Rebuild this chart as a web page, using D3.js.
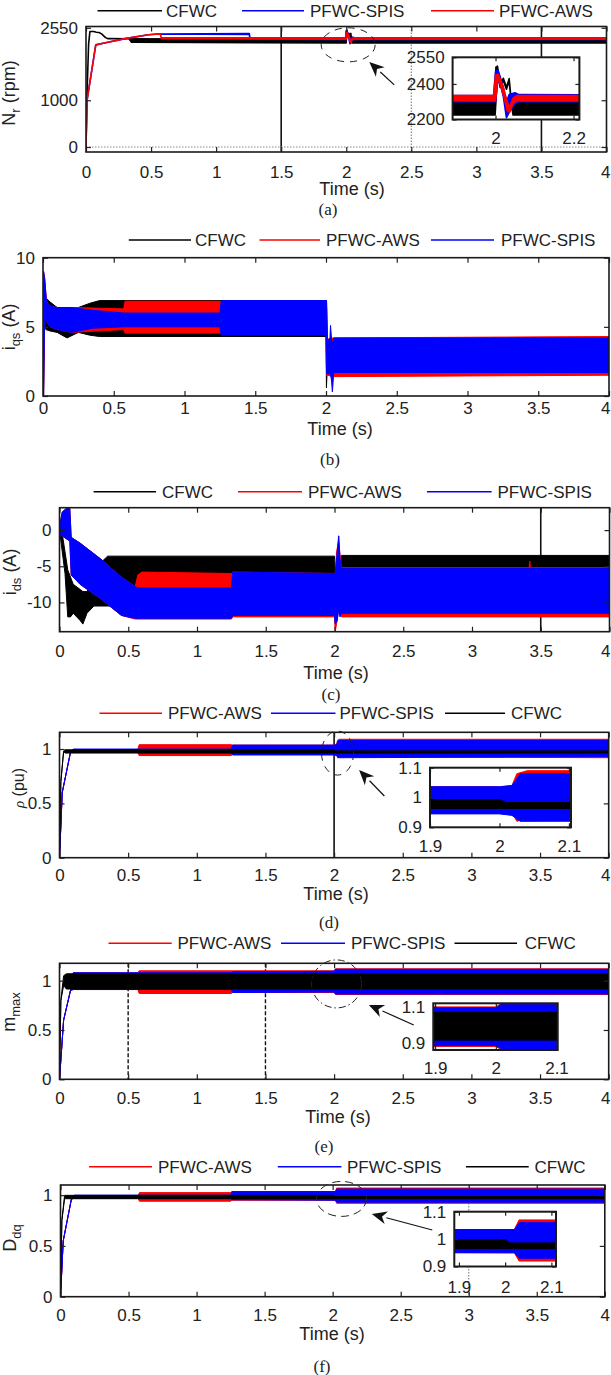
<!DOCTYPE html>
<html>
<head>
<meta charset="utf-8">
<script src="https://cdn.jsdelivr.net/npm/d3@7"></script>
<style>
body { margin: 0; background: #fff; }
text { font-family: "Liberation Sans", Arial, sans-serif; fill: #222; }
</style>
</head>
<body>
<svg id="fig" width="611" height="1375"></svg>
<script>
// ---- data: envelopes as [t (s), low, high] ----
const timeTicks = [0, 0.5, 1, 1.5, 2, 2.5, 3, 3.5, 4]
const insetTimeTicks = [1.9, 2, 2.1]
const unitTicks = [0, 0.5, 1]

// (a) rotor speed
const nrTicks = [0, 1000, 2550]
const nrInsetTicks = [2200, 2400, 2550]
const nrInsetTimeTicks = [2, 2.2]
const nrCFWC = [[0,0,0],[0.005,900,900],[0.02,2200,2200],[0.03,2470,2470],[0.06,2470,2470],[0.08,2455,2455],[0.1,2450,2450],[0.12,2420,2420],[0.15,2340,2340],[0.17,2318,2318],[0.33,2315,2315],[0.35,2240,2315],[1.999,2225,2300],[2.001,2300,2495],[2.005,2480,2500],[2.012,2380,2392],[2.02,2420,2432],[2.028,2370,2382],[2.035,2418,2430],[2.04,2300,2312],[2.045,2225,2300],[4,2225,2300]]
const nrSPIS = [[0,0,0],[0.008,1000,1000],[0.075,2185,2185],[0.15,2230,2230],[0.3,2318,2318],[0.48,2400,2400],[0.55,2418,2418],[1.255,2410,2425],[1.26,2305,2335],[1.995,2300,2335],[2.0,2300,2470],[2.006,2420,2480],[2.012,2400,2440],[2.02,2330,2380],[2.028,2210,2300],[2.035,2240,2340],[2.05,2290,2350],[2.06,2300,2340],[4,2300,2335]]
const nrAWS = [[0,0,0],[0.008,1000,1000],[0.075,2185,2185],[0.15,2230,2230],[0.3,2318,2318],[0.48,2400,2400],[0.57,2420,2420],[0.58,2315,2335],[1.995,2305,2335],[2.0,2305,2450],[2.006,2430,2455],[2.012,2400,2430],[2.02,2340,2380],[2.03,2250,2300],[2.036,2240,2270],[2.045,2290,2320],[2.055,2305,2335],[4,2305,2335]]

// (b) q-axis stator current
const iqsTicks = [0, 5, 10]
const iqsCFWC = [[0,0,0],[0.004,0,8.8],[0.012,5.6,8.2],[0.02,4.8,7.1],[0.05,4.7,6.8],[0.1,4.6,6.4],[0.17,4.2,6.3],[0.25,4.6,6.4],[0.33,4.4,6.7],[0.4,4.3,6.9],[2.0,4.3,6.9],[2.003,0.6,6.9],[2.008,1.8,3.9],[4,1.8,3.9]]
const iqsAWS = [[0,0,0],[0.004,0,9.0],[0.012,6.0,8.5],[0.025,5.4,6.8],[0.05,5.0,6.5],[0.1,4.8,6.4],[0.2,4.6,6.4],[0.57,4.8,6.3],[0.58,4.55,6.85],[1.25,4.55,6.85],[1.26,4.5,6.8],[2.0,4.5,6.8],[2.004,1.5,6.8],[2.01,1.5,4.1],[2.05,1.4,4.2],[4,1.5,4.3]]
const iqsSPIS = [[0,0,0],[0.004,0,9.0],[0.012,6.0,8.5],[0.025,5.4,6.8],[0.05,5.0,6.5],[0.1,4.8,6.4],[0.2,4.6,6.4],[0.35,4.9,6.2],[0.57,5.0,6.0],[1.25,5.0,6.0],[1.26,4.4,6.9],[2.0,4.4,6.9],[2.004,1.6,6.9],[2.01,1.6,4.0],[2.028,1.6,4.2],[2.032,1.6,5.1],[2.04,1.0,4.0],[2.045,0.3,3.8],[2.055,1.7,4.2],[4,1.7,4.2]]

// (c) d-axis stator current
const idsTicks = [-10, -5, 0]
const idsCFWC = [[0,0,0],[0.02,-3,-0.5],[0.04,-6,-3],[0.06,-12,-5.5],[0.08,-12,-6.5],[0.1,-11.5,-7.5],[0.15,-12.5,-8.2],[0.17,-13,-8.5],[0.2,-11.5,-8.5],[0.25,-10.5,-6.5],[0.3,-10.5,-4.5],[0.35,-10.5,-3.6],[2.0,-11,-3.6],[2.005,-12,-6],[2.025,-10,-5],[2.03,-8,-0.8],[2.035,-10,-5],[2.045,-11,-5],[2.05,-11,-3.5],[4,-11,-3.5]]
const idsAWS = [[0,-0.5,0.5],[0.02,-0.8,2.5],[0.05,-1.2,3.0],[0.075,-1.5,3.0],[0.085,-6.2,-1.0],[0.15,-7.5,-1.8],[0.3,-9.5,-4.0],[0.45,-11.8,-6.5],[0.55,-12.3,-7.8],[0.57,-12.3,-6.2],[0.6,-12.3,-5.8],[1.25,-12.3,-6.0],[1.26,-12,-5.8],[2.0,-12,-6],[2.005,-14,-6],[2.015,-13,-3],[2.03,-11,-1.5],[2.05,-12,-5.2],[3.415,-12,-5.2],[3.42,-12,-4.3],[3.425,-12,-5.2],[4,-12,-5.2]]
const idsSPIS = [[0,-0.5,0.5],[0.02,-0.8,2.5],[0.05,-1.2,3.0],[0.075,-1.5,3.0],[0.085,-6.2,-1.0],[0.15,-7.5,-1.8],[0.3,-9.5,-4.0],[0.45,-11.8,-6.5],[0.55,-12.2,-7.8],[0.57,-12.2,-8.0],[1.25,-12.2,-8.0],[1.26,-11.8,-5.8],[2.0,-11.8,-6.0],[2.005,-13,-6],[2.02,-12.5,-3],[2.03,-11,-0.8],[2.04,-12,-4],[2.05,-11.5,-5.3],[4,-11.5,-5.3]]

// (d) rho
const rhoInsetTicks = [0.9, 1, 1.1]
const rhoAWS = [[0,0,0],[0.02,0.6,0.6],[0.08,0.97,0.97],[0.1,0.97,0.995],[0.57,0.97,0.995],[0.58,0.94,1.04],[1.25,0.94,1.04],[1.26,0.952,1.036],[2.0,0.952,1.036],[2.018,0.95,1.04],[2.025,0.92,1.08],[2.04,0.93,1.09],[4,0.92,1.09]]
const rhoSPIS = [[0,0,0],[0.02,0.6,0.6],[0.08,0.97,0.97],[0.1,0.97,1.0],[1.25,0.97,1.0],[1.26,0.945,1.036],[2.0,0.945,1.036],[2.018,0.94,1.04],[2.03,0.92,1.08],[4,0.93,1.08]]
const rhoCFWC = [[0,0,0],[0.01,0.7,0.7],[0.03,0.98,0.98],[0.04,0.963,0.993],[2.0,0.963,0.993],[2.01,0.963,0.983],[4,0.963,0.983]]

// (e) m_max
const mInsetTicks = [0.9, 1.1]
const mAWS = [[0,0,0],[0.03,0.6,0.6],[0.08,0.9,0.9],[0.1,0.91,1.08],[0.57,0.91,1.08],[0.58,0.87,1.1],[1.25,0.87,1.1],[1.26,0.88,1.1],[2.0,0.88,1.1],[2.01,0.86,1.12],[4,0.86,1.12]]
const mSPIS = [[0,0,0],[0.03,0.6,0.6],[0.08,0.9,0.9],[0.1,0.91,1.08],[1.25,0.91,1.08],[1.26,0.88,1.09],[2.0,0.885,1.095],[2.01,0.865,1.115],[4,0.865,1.115]]
const mCFWC = [[0,0,0],[0.01,0.8,0.8],[0.03,0.95,1.05],[0.05,0.915,1.07],[4,0.915,1.07]]

// (f) D_dq
const dAWS = [[0,0,0],[0.02,0.55,0.55],[0.08,0.96,0.96],[0.1,0.97,0.995],[0.57,0.97,0.995],[0.58,0.94,1.025],[1.25,0.94,1.025],[1.26,0.95,1.035],[2.02,0.95,1.035],[2.03,0.92,1.07],[4,0.92,1.07]]
const dSPIS = [[0,0,0],[0.02,0.55,0.55],[0.08,0.96,0.96],[0.1,0.97,1.0],[1.25,0.97,1.0],[1.26,0.955,1.034],[2.02,0.95,1.035],[2.03,0.93,1.06],[4,0.93,1.06]]
const dCFWC = [[0,0,0],[0.01,0.75,0.75],[0.03,0.965,0.998],[2.0,0.965,0.998],[2.01,0.965,0.986],[4,0.965,0.986]]

const names = { cfwc: "CFWC", aws: "PFWC-AWS", spis: "PFWC-SPIS" }
const colors = { cfwc: "#000000", aws: "#ff0000", spis: "#0000ff" }

// ---- layout ----
const panels = [
  { key: "a", left: 86, right: 606.5, top: 26.5, bottom: 152, yDomain: [-107, 2578], yTicks: nrTicks, gap: 20, sw: 1.6,
    series: [["cfwc", nrCFWC], ["spis", nrSPIS], ["aws", nrAWS]],
    legendY: 10.7, legend: [["cfwc", 97.5, 162, 166], ["spis", 242, 304, 310], ["aws", 431, 494, 499]],
    ylabel: { x: 20, y: 93, parts: [["N"], ["r", "sub"], [" (rpm)"]] },
    timeLabel: [352, 189], caption: ["(a)", 328, 209],
    refV: [[1.5, "solid"], [3.5, "solid"], [2.5, "dot"]], refH: [[0, "dot"]],
    inset: { left: 452.6, right: 579.4, top: 57.3, bottom: 119.5, xDomain: [1.89, 2.215], yDomain: [2200, 2550], xTicks: nrInsetTimeTicks, yTicks: nrInsetTicks, labelY: 138 },
    ellipse: { t: 2.015, v: 2186, rx: 27, ry: 17, dash: "7,6" },
    arrow: { from: [2.369, 1328], to: [2.177, 1821] } },
  { key: "b", left: 43, right: 609, top: 257.7, bottom: 396, yDomain: [0, 10], yTicks: iqsTicks, gap: 12, sw: 1,
    series: [["cfwc", iqsCFWC], ["aws", iqsAWS], ["spis", iqsSPIS]],
    legendY: 240, legend: [["cfwc", 128.8, 191, 195], ["aws", 259.5, 320, 326], ["spis", 431, 494, 501]],
    ylabel: { x: 20, y: 327, parts: [["i"], ["qs", "sub"], [" (A)"]] },
    timeLabel: [340, 429], caption: ["(b)", 330, 459],
    refV: [], refH: [] },
  { key: "c", left: 59.5, right: 609.5, top: 507.7, bottom: 631.7, yDomain: [-14.05, 3.1], yTicks: idsTicks, gap: 19, sw: 1,
    series: [["cfwc", idsCFWC], ["aws", idsAWS], ["spis", idsSPIS]],
    legendY: 491.7, legend: [["cfwc", 93.6, 156, 162], ["aws", 238, 302, 308], ["spis", 427, 491.6, 497.5]],
    ylabel: { x: 21, y: 572, parts: [["i"], ["ds", "sub"], [" (A)"]] },
    timeLabel: [336, 673], caption: ["(c)", 331, 694],
    refV: [[3.5, "solid"]], refH: [] },
  { key: "d", left: 59.5, right: 608.7, top: 732.3, bottom: 857.7, yDomain: [0, 1.154], yTicks: unitTicks, gap: 17, sw: 1,
    series: [["aws", rhoAWS], ["spis", rhoSPIS], ["cfwc", rhoCFWC]],
    legendY: 713.3, legend: [["aws", 99.5, 162, 168], ["spis", 271, 335.5, 339.5], ["cfwc", 445, 505, 511]],
    ylabel: { x: 18, y: 788, rho: true },
    timeLabel: [336, 894], caption: ["(d)", 329, 922],
    refV: [[2, "solid"]], refH: [],
    inset: { left: 430, right: 571, top: 767.7, bottom: 827.3, xDomain: [1.9, 2.103], yDomain: [0.9, 1.1], xTicks: insetTimeTicks, yTicks: rhoInsetTicks, labelY: 846 },
    ellipse: { t: 2.025, v: 0.963, rx: 16, ry: 22, dash: "7,6" },
    arrow: { from: [2.366, 0.568], to: [2.182, 0.807] } },
  { key: "e", left: 59.5, right: 608.7, top: 963.3, bottom: 1079.3, yDomain: [0, 1.176], yTicks: unitTicks, gap: 19, sw: 1,
    series: [["aws", mAWS], ["spis", mSPIS], ["cfwc", mCFWC]],
    legendY: 943.3, legend: [["aws", 108.5, 171.7, 177.5], ["spis", 281, 345, 351], ["cfwc", 454.5, 517, 524.8]],
    ylabel: { x: 20, y: 1012, parts: [["m"], ["max", "sub"]] },
    timeLabel: [338, 1117], caption: ["(e)", 324, 1146],
    refV: [[0.5, "dash"], [1.5, "dash"]], refH: [],
    inset: { left: 433.3, right: 557.7, top: 1003.3, bottom: 1050, xDomain: [1.897, 2.102], yDomain: [0.86, 1.12], xTicks: insetTimeTicks, yTicks: mInsetTicks, labelY: 1068.3 },
    ellipse: { t: 2.018, v: 0.967, rx: 25, ry: 24, dash: "7,3,1.5,3" },
    arrow: { from: [2.58, 0.551], to: [2.253, 0.754] } },
  { key: "f", left: 60.5, right: 604.8, top: 1185, bottom: 1296.7, yDomain: [0, 1.1], yTicks: unitTicks, gap: 18, sw: 1,
    series: [["aws", dAWS], ["spis", dSPIS], ["cfwc", dCFWC]],
    legendY: 1166.7, legend: [["aws", 89, 152, 158], ["spis", 277.8, 341.4, 347], ["cfwc", 466, 528.7, 534.5]],
    ylabel: { x: 21, y: 1238, parts: [["D"], ["dq", "sub"]] },
    timeLabel: [332, 1334], caption: ["(f)", 322, 1366],
    refV: [[3, "dot"]], refH: [],
    inset: { left: 454.3, right: 556, top: 1211.7, bottom: 1266.5, xDomain: [1.89, 2.11], yDomain: [0.9, 1.1], xTicks: insetTimeTicks, yTicks: rhoInsetTicks, labelY: 1286.7 },
    ellipse: { t: 2.065, v: 0.963, rx: 25, ry: 17.5, dash: "8,5" },
    arrow: { from: [2.732, 0.657], to: [2.288, 0.815] } }
]

const svg = d3.select("#fig")
const fmt = v => String(v)
const pageW = 611

function drawSeries(g, p, x, y) {
  p.series.forEach(([k, data]) => {
    g.append("path").datum(data)
      .attr("d", d3.area().x(d => x(d[0])).y0(d => y(d[1])).y1(d => y(d[2])))
      .attr("fill", colors[k]).attr("stroke", colors[k])
      .attr("stroke-width", p.sw).attr("stroke-linejoin", "round")
  })
}

function frame(g, x, y, xt, yt, left, right, top, bottom, labelY, tick, boxW) {
  const ax = g.append("g").attr("color", "#222")
  const bottomAxis = ax.append("g").attr("transform", `translate(0,${bottom})`)
    .call(d3.axisBottom(x).tickValues(xt).tickSize(-tick).tickSizeOuter(0).tickFormat(fmt))
    .call(s => s.selectAll("text").attr("y", labelY - bottom).attr("dy", "0.35em"))
  ax.append("g").attr("transform", `translate(0,${top})`)
    .call(d3.axisTop(x).tickValues(xt).tickSize(-tick).tickSizeOuter(0).tickFormat(""))
  ax.append("g").attr("transform", `translate(${left},0)`)
    .call(d3.axisLeft(y).tickValues(yt).tickSize(-tick).tickSizeOuter(0).tickPadding(8).tickFormat(fmt))
  ax.append("g").attr("transform", `translate(${right},0)`)
    .call(d3.axisRight(y).tickValues(yt).tickSize(-tick).tickSizeOuter(0).tickFormat(""))
  ax.selectAll(".domain").remove()
  ax.selectAll(".tick line").attr("stroke-width", 1.2)
  ax.selectAll("g").attr("font-size", null).attr("font-family", null)
  ax.selectAll("text").attr("fill", "#222").attr("font-size", 17)
    .style("font-family", '"Liberation Sans", Arial, sans-serif')
  // keep the last time label inside the page
  bottomAxis.selectAll(".tick").each(function (d) {
    const t = d3.select(this).select("text")
    const w = t.node().getComputedTextLength()
    const over = x(d) + w / 2 - (pageW - 1)
    if (over > 0) t.attr("x", -over)
  })
  g.append("rect").attr("x", left).attr("y", top).attr("width", right - left).attr("height", bottom - top)
    .attr("fill", "none").attr("stroke", "#1a1a1a").attr("stroke-width", boxW)
}

function drawPanel(p) {
  const g = svg.append("g")
  const x = d3.scaleLinear().domain([0, 4]).range([p.left, p.right])
  const y = d3.scaleLinear().domain(p.yDomain).range([p.bottom, p.top])

  svg.append("clipPath").attr("id", "clip" + p.key).append("rect")
    .attr("x", p.left).attr("y", p.top).attr("width", p.right - p.left).attr("height", p.bottom - p.top)
  const plot = g.append("g").attr("clip-path", `url(#clip${p.key})`)

  // stray grid / marker lines
  const refStyle = { solid: ["#111", null, 1.6], dot: ["#888", "1.5,1.5", 1.2], dash: ["#111", "4,2", 1.4] }
  p.refV.forEach(([t, s]) => {
    plot.append("line").attr("x1", x(t)).attr("x2", x(t)).attr("y1", p.top).attr("y2", p.bottom)
      .attr("stroke", refStyle[s][0]).attr("stroke-dasharray", refStyle[s][1]).attr("stroke-width", refStyle[s][2])
  })
  p.refH.forEach(([v, s]) => {
    plot.append("line").attr("x1", p.left).attr("x2", p.right).attr("y1", y(v)).attr("y2", y(v))
      .attr("stroke", refStyle[s][0]).attr("stroke-dasharray", refStyle[s][1]).attr("stroke-width", refStyle[s][2])
  })

  drawSeries(plot, p, x, y)
  frame(g, x, y, timeTicks, p.yTicks, p.left, p.right, p.top, p.bottom, p.bottom + p.gap, 5, 1.6)

  // zoomed inset
  if (p.inset) {
    const q = p.inset
    const xi = d3.scaleLinear().domain(q.xDomain).range([q.left, q.right])
    const yi = d3.scaleLinear().domain(q.yDomain).range([q.bottom, q.top])
    const gi = svg.append("g")
    gi.append("rect").attr("x", q.left).attr("y", q.top).attr("width", q.right - q.left).attr("height", q.bottom - q.top).attr("fill", "#fff")
    svg.append("clipPath").attr("id", "clipi" + p.key).append("rect")
      .attr("x", q.left).attr("y", q.top).attr("width", q.right - q.left).attr("height", q.bottom - q.top)
    drawSeries(gi.append("g").attr("clip-path", `url(#clipi${p.key})`), p, xi, yi)
    frame(gi, xi, yi, q.xTicks, q.yTicks, q.left, q.right, q.top, q.bottom, q.labelY, 4, 2)
  }

  // dashed circle and arrow
  if (p.ellipse) {
    const e = p.ellipse
    g.append("ellipse").attr("cx", x(e.t)).attr("cy", y(e.v)).attr("rx", e.rx).attr("ry", e.ry)
      .attr("fill", "none").attr("stroke", "#222").attr("stroke-width", 1).attr("stroke-dasharray", e.dash)
  }
  if (p.arrow) {
    const a = p.arrow
    const x1 = x(a.from[0]), y1 = y(a.from[1]), x2 = x(a.to[0]), y2 = y(a.to[1])
    const ang = Math.atan2(y2 - y1, x2 - x1), L = 15, W = 6.5
    const bx = x2 - L * Math.cos(ang), by = y2 - L * Math.sin(ang)
    g.append("line").attr("x1", x1).attr("y1", y1).attr("x2", bx).attr("y2", by).attr("stroke", "#111").attr("stroke-width", 1.2)
    g.append("path").attr("fill", "#111")
      .attr("d", `M${x2},${y2}L${bx - W * Math.sin(ang)},${by + W * Math.cos(ang)}L${x2 - 0.7 * L * Math.cos(ang)},${y2 - 0.7 * L * Math.sin(ang)}L${bx + W * Math.sin(ang)},${by - W * Math.cos(ang)}Z`)
  }

  // legend
  const lg = svg.append("g")
  p.legend.forEach(([k, lx0, lx1, tx]) => {
    lg.append("line").attr("x1", lx0).attr("x2", lx1).attr("y1", p.legendY).attr("y2", p.legendY)
      .attr("stroke", colors[k]).attr("stroke-width", 1.5)
    lg.append("text").attr("x", tx).attr("y", p.legendY).attr("dy", "0.36em").attr("font-size", 17).text(names[k])
  })

  // y label
  const yl = svg.append("text").attr("transform", `translate(${p.ylabel.x},${p.ylabel.y}) rotate(-90)`)
    .attr("text-anchor", "middle").attr("dy", "0.36em").attr("font-size", 18)
  if (p.ylabel.rho) {
    yl.append("tspan").attr("font-family", '"Liberation Serif", serif').attr("font-style", "italic").attr("font-size", 15).text("ρ")
    yl.append("tspan").attr("font-size", 16).text(" (pu)")
  } else {
    p.ylabel.parts.forEach(([s, kind]) => {
      if (kind === "sub") yl.append("tspan").attr("dy", 5).attr("font-size", 13).text(s)
      else yl.append("tspan").attr("dy", yl.selectAll("tspan").size() ? -5 : null).text(s)
    })
  }

  svg.append("text").attr("x", p.timeLabel[0]).attr("y", p.timeLabel[1]).attr("dy", "0.36em")
    .attr("text-anchor", "middle").attr("font-size", 18).text("Time (s)")
  svg.append("text").attr("x", p.caption[1]).attr("y", p.caption[2]).attr("dy", "0.36em")
    .attr("text-anchor", "middle").attr("font-size", 17)
    .style("font-family", '"Liberation Serif", "Times New Roman", serif').text(p.caption[0])
}

panels.forEach(drawPanel)
</script>
</body>
</html>
